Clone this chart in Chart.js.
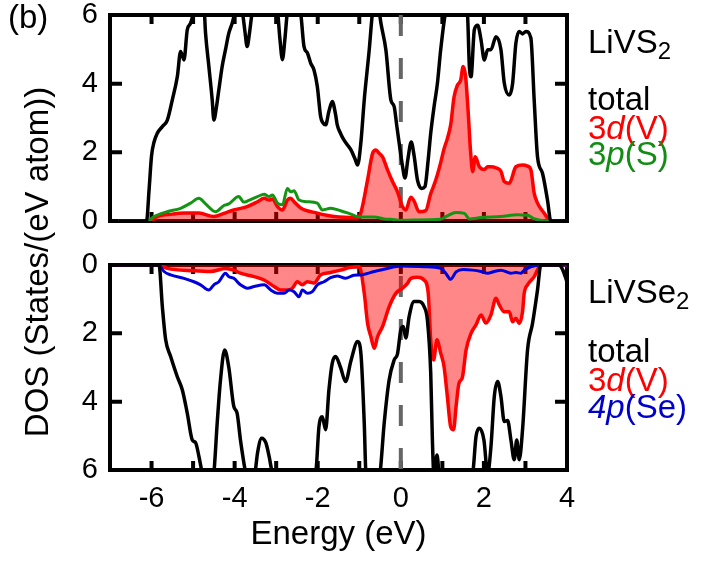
<!DOCTYPE html>
<html>
<head>
<meta charset="utf-8">
<script src="https://cdn.jsdelivr.net/npm/chart.js@4.4.0/dist/chart.umd.min.js"></script>
<style>
  html, body { margin: 0; padding: 0; background: #fff; }
  body { width: 703px; height: 568px; overflow: hidden; position: relative;
         font-family: "Liberation Sans", Arial, sans-serif; color: #000; }
  canvas { position: absolute; left: 0; }
  #c1 { top: 0; }
  #c2 { top: 240px; }
  .lbl { position: absolute; left: 588px; font-size: 33px; line-height: 1; white-space: nowrap; }
  .lbl sub { font-size: 24px; vertical-align: -6px; line-height: 0; }
  #ytitle { position: absolute; left: 36px; top: 262px; font-size: 33px; line-height: 1;
            white-space: nowrap; transform: translate(-50%, -50%) rotate(-90deg); }
  #panel { position: absolute; left: 8px; top: 0px; font-size: 33px; line-height: 1; }
</style>
</head>
<body>
<canvas id="c1" width="703" height="240"></canvas>
<canvas id="c2" width="703" height="328"></canvas>
<div id="panel">(b)</div>
<div id="ytitle">DOS (States/(eV atom))</div>
<div class="lbl" style="top:25px">LiVS<sub>2</sub></div>
<div class="lbl" style="top:82px">total</div>
<div class="lbl" style="top:111px;color:#ff0000">3<i>d</i>(V)</div>
<div class="lbl" style="top:137px;color:#128c12">3<i>p</i>(S)</div>
<div class="lbl" style="top:275px">LiVSe<sub>2</sub></div>
<div class="lbl" style="top:334px">total</div>
<div class="lbl" style="top:363px;color:#ff0000">3<i>d</i>(V)</div>
<div class="lbl" style="top:390px;color:#0000cc"><i>4p</i>(Se)</div>
<script>
// ---------- data (energy in eV, DOS in states/(eV atom)) ----------
const energyRange = [-7, 4];
const dosRange = [0, 6];
const energyTickLabels = [-6, -4, -2, 0, 2, 4];
const energyTickMarks = [-6, -5, -4, -3, -2, -1, 0, 1, 2, 3];
const dosTickLabels = [0, 2, 4, 6];
const dosTickMarks = [2, 4];
const fermiLevel = 0;

// LiVS2 panel
const livs2Total = [[-6.8,0],[-6.12,0],[-6.06,0.9],[-6.0,1.9],[-5.94,2.3],[-5.86,2.56],[-5.74,2.75],[-5.62,2.94],[-5.5,3.53],[-5.38,4.2],[-5.3,4.94],[-5.22,4.69],[-5.14,5.57],[-5.06,5.76],[-4.98,6.1],[-4.86,6.6],[-4.74,6.3],[-4.7,5.47],[-4.62,4.5],[-4.54,3.53],[-4.5,2.94],[-4.44,3.3],[-4.38,3.82],[-4.3,4.5],[-4.22,4.99],[-4.14,5.47],[-4.06,5.76],[-3.98,6.1],[-3.88,6.2],[-3.81,6.05],[-3.75,5.5],[-3.7,5.08],[-3.64,5.5],[-3.58,6.05],[-3.53,6.2],[-3.3,6.6],[-2.97,6.1],[-2.91,5.3],[-2.85,4.7],[-2.79,5.3],[-2.73,6.1],[-2.6,6.6],[-2.41,6.05],[-2.33,5.08],[-2.25,4.9],[-2.17,4.6],[-2.09,4.4],[-2.01,3.92],[-1.93,3.04],[-1.87,2.85],[-1.81,2.8],[-1.73,3.2],[-1.65,3.48],[-1.57,3.1],[-1.53,2.8],[-1.45,2.55],[-1.37,2.36],[-1.2,2.07],[-1.1,1.8],[-1.04,1.63],[-0.96,2.3],[-0.88,3.53],[-0.76,4.99],[-0.68,6.1],[-0.6,6.6],[-0.52,6.1],[-0.48,5.77],[-0.36,4.99],[-0.24,3.53],[-0.16,3.33],[-0.1,2.8],[-0.04,2.27],[0.04,1.6],[0.1,1.25],[0.17,1.8],[0.25,2.3],[0.32,1.9],[0.4,1.2],[0.5,0.95],[0.58,1.0],[0.66,1.8],[0.72,2.56],[0.8,3.33],[0.88,4.0],[0.96,4.99],[1.08,6.1],[1.3,6.6],[1.6,6.1],[1.65,4.5],[1.69,4.2],[1.77,5.57],[1.85,5.7],[1.93,5.28],[2.01,4.69],[2.09,4.99],[2.17,4.99],[2.29,5.37],[2.41,4.99],[2.49,4.02],[2.61,3.67],[2.69,4.0],[2.77,5.18],[2.85,5.52],[2.93,5.45],[3.01,5.52],[3.13,5.33],[3.21,3.53],[3.29,1.87],[3.41,1.39],[3.53,0.61],[3.61,0],[4.0,0]];
const livs2V3d = [[-6.8,0],[-6.05,0],[-5.86,0.13],[-5.5,0.2],[-5.22,0.23],[-4.86,0.23],[-4.5,0.13],[-4.26,0.22],[-4.02,0.32],[-3.7,0.42],[-3.45,0.56],[-3.29,0.66],[-3.17,0.61],[-3.09,0.64],[-2.97,0.42],[-2.85,0.32],[-2.73,0.61],[-2.65,0.66],[-2.57,0.56],[-2.41,0.38],[-2.01,0.23],[-1.6,0.13],[-1.04,0.1],[-0.96,0.25],[-0.8,1.2],[-0.68,1.97],[-0.6,2.07],[-0.52,1.97],[-0.44,1.87],[-0.32,1.49],[-0.2,1.15],[-0.08,0.85],[0.04,0.42],[0.12,0.32],[0.24,0.69],[0.32,0.58],[0.44,0.27],[0.6,0.3],[0.72,0.8],[0.8,1.05],[0.88,1.35],[0.96,1.7],[1.04,2.1],[1.12,2.4],[1.2,2.8],[1.28,3.6],[1.36,3.95],[1.44,4.1],[1.5,4.5],[1.56,4.2],[1.62,3.2],[1.68,2.0],[1.73,1.44],[1.79,1.87],[1.89,1.58],[2.01,1.5],[2.09,1.58],[2.17,1.58],[2.29,1.55],[2.41,1.45],[2.49,1.15],[2.61,1.1],[2.77,1.58],[2.93,1.63],[3.05,1.6],[3.13,1.5],[3.21,0.81],[3.29,0.52],[3.45,0.23],[3.61,0],[4.0,0]];
const livs2S3p = [[-6.8,0],[-6.1,0],[-5.94,0.13],[-5.62,0.27],[-5.3,0.37],[-5.06,0.52],[-4.86,0.66],[-4.7,0.5],[-4.46,0.27],[-4.26,0.45],[-4.14,0.5],[-3.9,0.71],[-3.78,0.55],[-3.66,0.6],[-3.45,0.71],[-3.29,0.78],[-3.17,0.71],[-3.09,0.76],[-2.97,0.52],[-2.85,0.47],[-2.73,0.95],[-2.65,0.85],[-2.57,0.88],[-2.45,0.61],[-2.25,0.56],[-2.01,0.52],[-1.89,0.32],[-1.69,0.37],[-1.45,0.3],[-1.2,0.2],[-1.0,0.12],[-0.64,0.12],[-0.4,0.06],[-0.24,0.05],[0,0.02],[0.3,0.03],[0.96,0.05],[1.12,0.15],[1.33,0.25],[1.53,0.22],[1.65,0.06],[1.93,0.1],[2.41,0.13],[2.81,0.18],[3.05,0.17],[3.2,0.07],[3.45,0.01],[4.0,0]];

// LiVSe2 panel
const livse2Total = [[-6.8,0],[-5.82,0],[-5.74,1.22],[-5.66,2.19],[-5.54,2.68],[-5.38,3.27],[-5.26,3.65],[-5.14,4.34],[-5.02,5.12],[-4.94,5.2],[-4.86,5.6],[-4.78,6.1],[-4.65,6.8],[-4.5,6.1],[-4.42,4.63],[-4.34,3.36],[-4.24,2.49],[-4.14,3.0],[-4.02,4.14],[-3.94,4.34],[-3.86,5.12],[-3.73,6.1],[-3.6,6.5],[-3.5,6.0],[-3.45,5.51],[-3.35,5.07],[-3.25,5.2],[-3.17,5.6],[-3.09,6.1],[-2.6,6.8],[-2.05,6.1],[-1.97,4.73],[-1.89,4.44],[-1.81,4.82],[-1.73,3.65],[-1.65,2.87],[-1.57,2.68],[-1.45,3.0],[-1.33,3.41],[-1.2,2.8],[-1.04,2.24],[-0.96,2.6],[-0.88,4.63],[-0.84,6.1],[-0.65,6.8],[-0.5,6.1],[-0.4,4.63],[-0.28,3.36],[-0.16,2.78],[-0.08,2.6],[0,1.9],[0.06,1.8],[0.12,2.14],[0.2,1.51],[0.32,1.07],[0.44,1.07],[0.56,1.22],[0.64,1.61],[0.72,3.17],[0.76,5.12],[0.8,6.2],[0.87,5.56],[0.93,6.2],[1.3,6.8],[1.73,6.1],[1.81,5.02],[1.89,4.78],[2.0,5.12],[2.09,6.1],[2.17,5.31],[2.25,3.85],[2.33,3.41],[2.41,3.85],[2.49,4.58],[2.57,4.55],[2.65,5.12],[2.73,5.7],[2.79,5.12],[2.85,5.7],[2.93,4.82],[3.05,2.49],[3.17,1.71],[3.29,0.73],[3.37,0],[3.8,0],[3.9,0.15],[4.0,0.5]];
const livse2V3d = [[-6.8,0],[-5.82,0],[-5.62,0.1],[-4.98,0.17],[-4.58,0.19],[-4.22,0.1],[-4.02,0.15],[-3.86,0.24],[-3.53,0.34],[-3.29,0.44],[-3.05,0.63],[-2.89,0.73],[-2.73,0.73],[-2.61,0.68],[-2.49,0.49],[-2.37,0.58],[-2.25,0.49],[-2.09,0.53],[-1.93,0.29],[-1.69,0.22],[-1.45,0.15],[-1.2,0.07],[-1.0,0.05],[-0.88,0.83],[-0.8,1.71],[-0.72,2.1],[-0.64,2.44],[-0.56,2.1],[-0.44,1.8],[-0.28,1.22],[-0.12,0.83],[0.04,0.68],[0.16,0.54],[0.24,0.39],[0.4,0.36],[0.56,0.44],[0.66,0.83],[0.72,2.19],[0.79,2.78],[0.87,2.19],[0.96,2.58],[1.04,2.97],[1.12,3.85],[1.2,4.73],[1.27,4.82],[1.33,4.14],[1.4,3.46],[1.48,3.3],[1.57,2.49],[1.69,2.0],[1.81,1.75],[1.93,1.46],[2.05,1.7],[2.17,1.46],[2.29,0.97],[2.37,1.17],[2.49,1.37],[2.61,1.37],[2.69,1.66],[2.77,1.56],[2.85,1.71],[2.93,1.37],[2.97,0.83],[3.05,0.58],[3.21,0.34],[3.37,0],[4.0,0]];
const livse2Se4p = [[-6.8,0],[-5.82,0],[-5.7,0.19],[-5.54,0.29],[-5.22,0.39],[-4.98,0.49],[-4.82,0.58],[-4.62,0.73],[-4.5,0.58],[-4.38,0.49],[-4.22,0.24],[-4.14,0.34],[-4.02,0.39],[-3.86,0.58],[-3.69,0.68],[-3.53,0.63],[-3.29,0.58],[-3.13,0.73],[-2.97,0.83],[-2.81,0.83],[-2.69,0.73],[-2.57,0.78],[-2.45,0.93],[-2.37,0.73],[-2.25,0.83],[-2.13,0.78],[-2.01,0.58],[-1.85,0.49],[-1.69,0.37],[-1.53,0.32],[-1.33,0.39],[-1.13,0.3],[-0.96,0.29],[-0.64,0.19],[-0.32,0.1],[0,0.03],[0.56,0.05],[0.96,0.1],[1.08,0.24],[1.2,0.42],[1.33,0.2],[1.5,0.13],[1.73,0.15],[1.93,0.19],[2.09,0.24],[2.25,0.19],[2.41,0.15],[2.65,0.24],[2.77,0.22],[2.89,0.24],[2.97,0.15],[3.13,0.05],[3.37,0],[4.0,0]];

// ---------- rendering ----------
Chart.defaults.font.family = '"Liberation Sans", Arial, sans-serif';
Chart.defaults.color = '#000';

const toPts = arr => arr.map(([x, y]) => ({ x, y }));

function line(arr, color, width, order, fill) {
  return {
    data: toPts(arr), borderColor: color, borderWidth: width, pointRadius: 0,
    cubicInterpolationMode: 'monotone', order: order,
    fill: fill ? 'origin' : false, backgroundColor: fill ? 'rgba(255,0,0,0.47)' : 'transparent'
  };
}
function fermiLine(reversed) {
  const ys = reversed ? [dosRange[0], dosRange[1]] : [dosRange[1], dosRange[0]];
  return {
    data: ys.map(y => ({ x: fermiLevel, y })), borderColor: '#666', borderWidth: 4,
    borderDash: [21, 22], borderDashOffset: reversed ? 32 : 0, pointRadius: 0, order: 20, fill: false
  };
}

function drawFrame(chart) {
  const ctx = chart.ctx;
  const a = chart.chartArea;
  const x = chart.scales.x, y = chart.scales.y;
  ctx.save();
  ctx.setLineDash([]);
  ctx.strokeStyle = '#000000';
  ctx.lineWidth = 4;
  ctx.beginPath();
  ctx.rect(a.left, a.top, a.right - a.left, a.bottom - a.top);
  energyTickMarks.forEach(v => {
    const px = x.getPixelForValue(v);
    ctx.moveTo(px, a.bottom); ctx.lineTo(px, a.bottom - 9);
    ctx.moveTo(px, a.top); ctx.lineTo(px, a.top + 9);
  });
  dosTickMarks.forEach(v => {
    const py = y.getPixelForValue(v);
    ctx.moveTo(a.left, py); ctx.lineTo(a.left + 12, py);
    ctx.moveTo(a.right, py); ctx.lineTo(a.right - 12, py);
  });
  ctx.stroke();
  ctx.restore();
}

const framePlugin = {
  id: 'panelFrame',
  beforeDatasetsDraw(chart) { drawFrame(chart); }
};

function yAxis(reverse) {
  return {
    type: 'linear', min: dosRange[0], max: dosRange[1], reverse: reverse,
    grid: { display: false, drawTicks: false }, border: { display: false },
    afterFit: s => { s.width = 110; s.paddingTop = 0; s.paddingBottom = 0; },
    afterBuildTicks: s => { s.ticks = dosTickLabels.map(v => ({ value: v })); },
    ticks: { font: { size: 29 }, padding: 12, callback: v => String(v) }
  };
}

new Chart(document.getElementById('c1'), {
  type: 'line',
  data: { datasets: [
    line(livs2Total, '#000000', 3.5, 1, false),
    line(livs2S3p, '#149414', 3, 2, false),
    line(livs2V3d, '#ff0000', 3.5, 3, true),
    fermiLine(false)
  ] },
  options: {
    responsive: false, animation: false, devicePixelRatio: 1,
    layout: { padding: { left: 0, top: 15, right: 136, bottom: 19 } },
    plugins: { legend: { display: false }, tooltip: { enabled: false } },
    scales: {
      x: { type: 'linear', min: energyRange[0], max: energyRange[1], display: false },
      y: yAxis(false)
    }
  },
  plugins: [framePlugin]
});

new Chart(document.getElementById('c2'), {
  type: 'line',
  data: { datasets: [
    line(livse2Total, '#000000', 3.5, 1, false),
    line(livse2Se4p, '#0000dd', 3, 2, false),
    line(livse2V3d, '#ff0000', 3.5, 3, true),
    fermiLine(true)
  ] },
  options: {
    responsive: false, animation: false, devicePixelRatio: 1,
    layout: { padding: { left: 0, top: 25, right: 136, bottom: 0 } },
    plugins: { legend: { display: false }, tooltip: { enabled: false } },
    scales: {
      x: {
        type: 'linear', min: energyRange[0], max: energyRange[1],
        grid: { display: false, drawTicks: false }, border: { display: false },
        afterFit: s => { s.height = 98; },
        afterBuildTicks: s => { s.ticks = energyTickLabels.map(v => ({ value: v })); },
        ticks: { font: { size: 29 }, padding: 12, autoSkip: false, maxRotation: 0, callback: v => String(v) },
        title: { display: true, text: 'Energy (eV)', font: { size: 33 }, padding: { top: 0, bottom: 13 } }
      },
      y: yAxis(true)
    }
  },
  plugins: [framePlugin]
});
</script>
</body>
</html>
